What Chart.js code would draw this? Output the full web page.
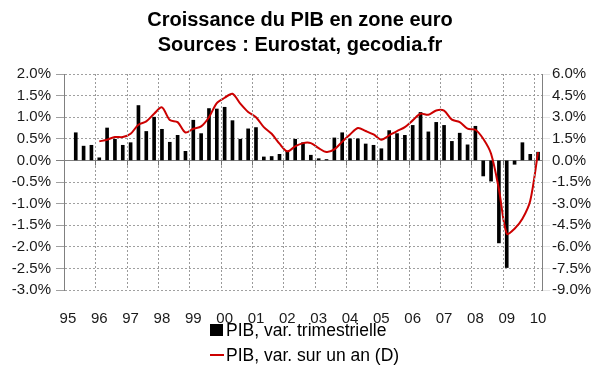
<!DOCTYPE html>
<html>
<head>
<meta charset="utf-8">
<script src="https://cdn.jsdelivr.net/npm/chart.js@4.4.1/dist/chart.umd.min.js"></script>
<style>
  html, body { margin: 0; padding: 0; background: #fff; }
  .wrap { position: relative; width: 600px; height: 372px; }
  .legend { position: absolute; left: 0; top: 0; width: 600px; height: 372px; font-family: "Liberation Sans", Arial, sans-serif; font-size: 17.5px; color: #000; pointer-events: none; }
  .legend .row { position: absolute; left: 210px; height: 20px; line-height: 20px; white-space: nowrap; }
  .legend .sw-bar { position: absolute; left: 0; top: 4px; width: 13px; height: 12px; background: #000; }
  .legend .sw-line { position: absolute; left: 0; top: 9px; width: 14px; height: 2px; background: #cc0000; }
  .legend .txt { position: absolute; left: 16px; top: 0; }
</style>
</head>
<body>
<div class="wrap">
  <canvas id="chart" width="600" height="372"></canvas>
  <div class="legend">
    <div class="row" style="top:320px"><span class="sw-bar"></span><span class="txt">PIB, var. trimestrielle</span></div>
    <div class="row" style="top:345px"><span class="sw-line"></span><span class="txt">PIB, var. sur un an (D)</span></div>
  </div>
</div>
<script>
// trimestres 1995T1 -> 2010T1
const quarters = [
  "1995T1", "1995T2", "1995T3", "1995T4",
  "1996T1", "1996T2", "1996T3", "1996T4",
  "1997T1", "1997T2", "1997T3", "1997T4",
  "1998T1", "1998T2", "1998T3", "1998T4",
  "1999T1", "1999T2", "1999T3", "1999T4",
  "2000T1", "2000T2", "2000T3", "2000T4",
  "2001T1", "2001T2", "2001T3", "2001T4",
  "2002T1", "2002T2", "2002T3", "2002T4",
  "2003T1", "2003T2", "2003T3", "2003T4",
  "2004T1", "2004T2", "2004T3", "2004T4",
  "2005T1", "2005T2", "2005T3", "2005T4",
  "2006T1", "2006T2", "2006T3", "2006T4",
  "2007T1", "2007T2", "2007T3", "2007T4",
  "2008T1", "2008T2", "2008T3", "2008T4",
  "2009T1", "2009T2", "2009T3", "2009T4",
  "2010T1"
];

const yearLabels = ["95", "96", "97", "98", "99", "00", "01", "02", "03", "04", "05", "06", "07", "08", "09", "10"];

// PIB, variation trimestrielle (%)
const pibTrim = [
  null, 0.64, 0.33, 0.35,
  0.06, 0.75, 0.49, 0.35,
  0.41, 1.27, 0.67, 1.00,
  0.72, 0.42, 0.58, 0.21,
  0.93, 0.62, 1.20, 1.19,
  1.23, 0.92, 0.49, 0.73,
  0.76, 0.08, 0.09, 0.14,
  0.21, 0.49, 0.41, 0.12,
  0.04, 0.02, 0.52, 0.64,
  0.50, 0.50, 0.38, 0.35,
  0.27, 0.69, 0.62, 0.58,
  0.81, 1.11, 0.66, 0.88,
  0.81, 0.44, 0.63, 0.36,
  0.79, -0.36, -0.48, -1.91,
  -2.48, -0.09, 0.41, 0.14,
  0.19
];

// PIB, variation sur un an (%), axe de droite
const pibAn = [
  null, null, null, null,
  1.32, 1.44, 1.62, 1.62,
  1.85, 2.48, 2.71, 3.24,
  3.68, 2.80, 2.66, 1.94,
  2.20, 2.36, 3.00, 3.98,
  4.35, 4.63, 3.94, 3.36,
  3.00, 2.31, 1.85, 1.16,
  0.63, 0.97, 1.20, 1.20,
  0.85, 0.58, 0.76, 1.30,
  1.80, 2.25, 2.04, 1.80,
  1.44, 1.74, 2.04, 2.31,
  2.78, 3.24, 3.17, 3.47,
  3.45, 2.83, 2.66, 2.20,
  2.13, 1.50, 0.46, -2.00,
  -5.09, -4.74, -4.05, -2.80,
  0.58
];

const FONT = "'Liberation Sans', Arial, sans-serif";
const pct = (v) => v.toFixed(1) + "%";

// séparateurs d'années (pointillés) + petits repères sous l'axe zéro
const yearGrid = {
  id: "yearGrid",
  afterDatasetsDraw(chart) {
    const { ctx, chartArea: a, scales } = chart;
    const x = scales.x;
    const y0 = Math.round(scales.y.getPixelForValue(0)) + 0.5;
    ctx.save();
    ctx.lineWidth = 1;
    for (let i = 4; i < quarters.length; i += 4) {
      const px = Math.round((x.getPixelForTick(i) + x.getPixelForTick(i - 1)) / 2) + 0.5;
      ctx.strokeStyle = "#9a9a9a";
      ctx.setLineDash([2, 2]);
      ctx.beginPath();
      ctx.moveTo(px, a.top);
      ctx.lineTo(px, a.bottom);
      ctx.stroke();
      ctx.strokeStyle = "#707070";
      ctx.setLineDash([]);
      ctx.beginPath();
      ctx.moveTo(px, y0);
      ctx.lineTo(px, y0 + 5);
      ctx.stroke();
    }
    ctx.restore();
  },
};

const ctx = document.getElementById("chart").getContext("2d");
new Chart(ctx, {
  type: "bar",
  data: {
    labels: quarters,
    datasets: [
      {
        type: "line",
        label: "PIB, var. sur un an (D)",
        data: pibAn,
        yAxisID: "y2",
        borderColor: "#cc0000",
        borderWidth: 2,
        pointRadius: 0,
        tension: 0.3,
        fill: false,
        order: 0,
      },
      {
        label: "PIB, var. trimestrielle",
        data: pibTrim,
        yAxisID: "y",
        backgroundColor: "#000",
        barThickness: 3,
        order: 1,
      },
    ],
  },
  plugins: [yearGrid],
  options: {
    responsive: false,
    animation: false,
    layout: { padding: 0 },
    plugins: {
      legend: { display: false },
      tooltip: { enabled: false },
      title: {
        display: true,
        text: ["Croissance du PIB en zone euro", "Sources : Eurostat, gecodia.fr"],
        color: "#000",
        font: { family: FONT, size: 20, weight: "bold", lineHeight: 1.25 },
        padding: { top: 8, bottom: 16 },
      },
    },
    scales: {
      x: {
        offset: true,
        grid: { display: false },
        border: { display: false },
        ticks: {
          autoSkip: false,
          maxRotation: 0,
          padding: 12,
          color: "#1a1a1a",
          font: { family: FONT, size: 15 },
          callback: (v, i) => (i % 4 === 0 ? yearLabels[i / 4] : ""),
        },
        afterFit: (s) => { s.height = 82; },
      },
      y: {
        position: "left",
        min: -3,
        max: 2,
        ticks: {
          stepSize: 0.5,
          padding: 5,
          color: "#1a1a1a",
          font: { family: FONT, size: 15 },
          callback: pct,
        },
        grid: {
          color: (c) => (c.tick && c.tick.value === 0 ? "#808080" : "#a0a0a0"),
        },
        border: {
          display: true,
          color: "#808080",
          dash: (c) => (c.tick && c.tick.value === 0 ? [] : [2, 2]),
        },
        afterFit: (s) => { s.width = 64; },
      },
      y2: {
        position: "right",
        min: -9,
        max: 6,
        ticks: {
          stepSize: 1.5,
          padding: 2,
          color: "#1a1a1a",
          font: { family: FONT, size: 15 },
          callback: pct,
        },
        grid: { drawOnChartArea: false },
        border: { display: true, color: "#808080" },
        afterFit: (s) => { s.width = 58; },
      },
    },
  },
});
</script>
</body>
</html>
